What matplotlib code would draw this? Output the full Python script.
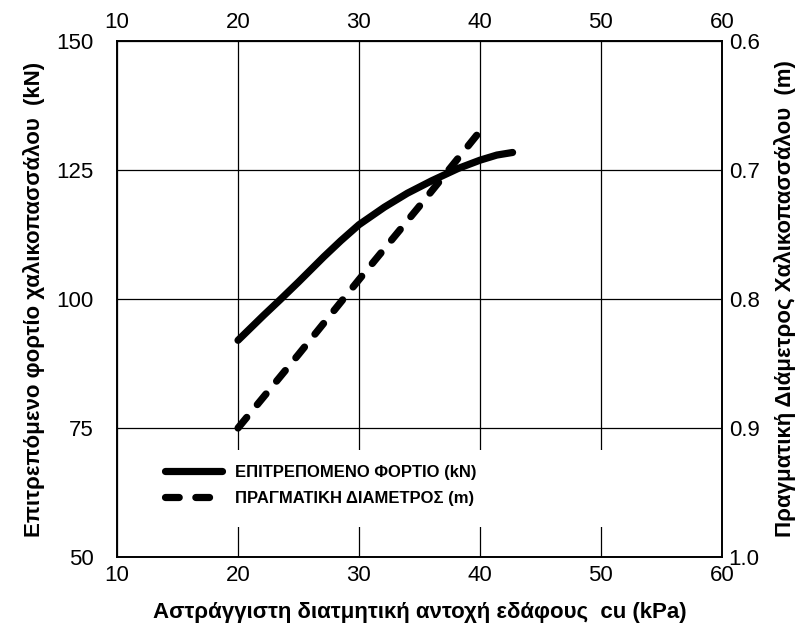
import matplotlib
matplotlib.use("Agg")
import matplotlib.pyplot as plt
from matplotlib.patches import Rectangle

plt.rcParams['font.family'] = ['Liberation Sans', 'DejaVu Sans']

# Data
cu_load = [20, 22.1, 23.5, 25, 27.1, 28.5, 30, 32.1, 34, 36, 38.2, 40, 41.4, 42.7]
load_kN = [92.0, 96.8, 99.9, 103.3, 108.2, 111.3, 114.4, 117.8, 120.5, 122.9, 125.3, 126.9, 127.9, 128.4]

cu_diam = [20, 25, 30, 35, 40]
diam_m = [0.90, 0.843, 0.785, 0.728, 0.67]

x_ticks = [10, 20, 30, 40, 50, 60]
y_ticks = [50, 75, 100, 125, 150]
y2_ticks = [0.6, 0.7, 0.8, 0.9, 1.0]

label_load = "ΕΠΙΤΡΕΠΟΜΕΝΟ ΦΟΡΤΙΟ (kN)"
label_diam = "ΠΡΑΓΜΑΤΙΚΗ ΔΙΑΜΕΤΡΟΣ (m)"

fig = plt.figure(figsize=(8.02, 6.37), dpi=100)
ax = fig.add_axes([0.146, 0.1256, 0.754, 0.81])
ax2 = ax.twinx()

ax.set_xlim(10, 60)
ax.set_ylim(50, 150)
ax2.set_ylim(1.0, 0.6)

ax.set_xticks(x_ticks)
ax.set_yticks(y_ticks)
ax2.set_yticks(y2_ticks)
ax2.set_yticklabels([f"{v:.1f}" for v in y2_ticks])

ax.grid(True, color='black', linewidth=0.9)
ax.set_axisbelow(True)

# white area behind legend, interrupting grid
ax.add_patch(Rectangle((0.055, 0.058), 0.81, 0.15, transform=ax.transAxes,
                       facecolor='white', edgecolor='none', zorder=1.5))

l1, = ax.plot(cu_load, load_kN, color='black', linewidth=5.2,
              solid_capstyle='round', solid_joinstyle='round', zorder=3, label=label_load)
l2, = ax2.plot(cu_diam, diam_m, color='black', linewidth=5.2,
               dashes=(1.9, 2.3), dash_capstyle='round', zorder=3, label=label_diam)

ax.tick_params(axis='both', length=0, labelsize=16)
ax.tick_params(axis='x', top=True, labeltop=True, pad=6)
ax.tick_params(axis='y', pad=17)
ax2.tick_params(axis='y', length=0, labelsize=16, pad=5)

for sp in list(ax.spines.values()) + list(ax2.spines.values()):
    sp.set_linewidth(1.2)

ax.set_xlabel("Αστράγγιστη διατμητική αντοχή εδάφους  cu (kPa)",
              fontsize=16, fontweight='bold', labelpad=11)
ax.set_ylabel("Επιτρεπόμενο φορτίο χαλικοπασσάλου  (kN)",
              fontsize=16, fontweight='bold', labelpad=8)
ax2.set_ylabel("Πραγματική Διάμετρος Χαλικοπασσάλου  (m)",
               fontsize=16, fontweight='bold', labelpad=10)

leg = ax.legend(handles=[l1, l2], loc='lower left',
                bbox_to_anchor=(0.055, 0.07), frameon=False,
                prop={'size': 12, 'weight': 'bold'},
                handlelength=3.4, handletextpad=0.75, labelspacing=0.65)

fig.savefig("out.png", dpi=100, facecolor='white')
